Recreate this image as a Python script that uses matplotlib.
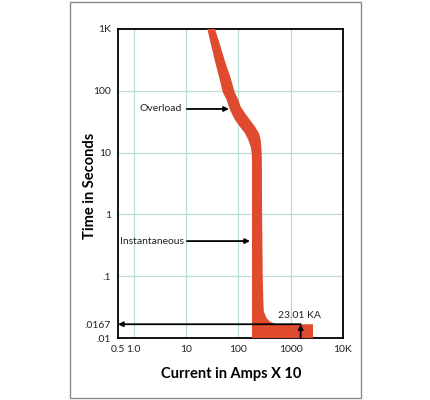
import matplotlib
matplotlib.use('Agg')
import matplotlib.pyplot as plt
from matplotlib.patches import Rectangle

# trip curve band (current x10 A, time s)
left_amps = [25.5, 30, 35.7, 43.2, 50.2, 59.8, 69.2, 86.2, 107, 134, 155,
             172, 180, 182, 182]
left_secs = [1000, 557, 300, 161, 95, 71, 48.9, 33.7, 26.2, 20.5, 16,
             12.45, 9.75, 7.6, 0.01]
right_amps = [35.7, 44.5, 55.5, 71.3, 85, 99.7, 110.8, 134, 167, 208, 248,
              267, 274, 279, 281, 284, 292, 300, 307, 348, 402, 501, 640,
              2670, 2670]
right_secs = [1000, 557, 300, 161, 95, 71, 55.3, 43.3, 33.7, 26.2, 20.5,
              16, 12.45, 9.75, 7.6, 1, 0.1, 0.04, 0.0267, 0.0208, 0.0184,
              0.0170, 0.0167, 0.0167, 0.01]

x_ticks = [0.5, 1, 10, 100, 1000, 10000]
x_labels = ['0.5', '1.0', '10', '100', '1000', '10K']
y_ticks = [0.01, 0.0167, 0.1, 1, 10, 100, 1000]
y_labels = ['.01', '.0167', '.1', '1', '10', '100', '1K']

fault_amps = 1550
fault_secs = 0.0167

plt.rcParams['font.family'] = ['Lato', 'DejaVu Sans']

fig = plt.figure(figsize=(4.3, 4.0), dpi=100)
fig.patches.append(Rectangle((0.163, 0.005), 0.677, 0.99, transform=fig.transFigure,
                             fill=False, edgecolor='#8a8a8a', lw=1.0))
ax = fig.add_axes([0.2744, 0.155, 0.5233, 0.7725])

xs = left_amps + right_amps[::-1]
ys = left_secs + right_secs[::-1]
ax.fill(xs, ys, color='#e04a2f', lw=0, zorder=3)

ax.set_xscale('log')
ax.set_yscale('log')
ax.set_xlim(0.5, 10000)
ax.set_ylim(0.01, 1000)
ax.set_xticks(x_ticks)
ax.set_xticklabels(x_labels)
ax.set_yticks(y_ticks)
ax.set_yticklabels(y_labels)
ax.minorticks_off()
ax.tick_params(length=0, labelsize=7.5, colors='#222222', pad=5)

for v in [1, 10, 100, 1000]:
    ax.axvline(v, color='#b9dcd4', lw=0.9, zorder=1)
for v in [0.1, 1, 10, 100]:
    ax.axhline(v, color='#b9dcd4', lw=0.9, zorder=1)
for s in ax.spines.values():
    s.set_linewidth(1.3)
    s.set_color('black')

arrow = dict(arrowstyle='-|>', color='black', lw=1.3, mutation_scale=7,
             shrinkA=0, shrinkB=0)
ax.text(8.4, 50.8, 'Overload', ha='right', va='center', fontsize=7.5, color='#222222')
ax.annotate('', xy=(66, 50.8), xytext=(10.4, 50.8), arrowprops=arrow, zorder=4)
ax.text(9.1, 0.37, 'Instantaneous', ha='right', va='center', fontsize=7.5, color='#222222')
ax.annotate('', xy=(167, 0.37), xytext=(10.4, 0.37), arrowprops=arrow, zorder=4)

ax.annotate('', xy=(0.5, fault_secs), xytext=(fault_amps, fault_secs),
            arrowprops=arrow, zorder=4)
ax.annotate('', xy=(fault_amps, fault_secs), xytext=(fault_amps, 0.01),
            arrowprops=arrow, zorder=4)
ax.text(1500, 0.0235, '23.01 KA', ha='center', va='center', fontsize=7.5, color='#222222')

ax.set_xlabel('Current in Amps X 10', fontsize=10.5, fontweight='bold')
ax.set_ylabel('Time in Seconds', fontsize=10.5, fontweight='bold')
ax.xaxis.set_label_coords(0.504, -0.094)
ax.yaxis.set_label_coords(-0.093, 0.492)

fig.savefig('out.png', dpi=100)
